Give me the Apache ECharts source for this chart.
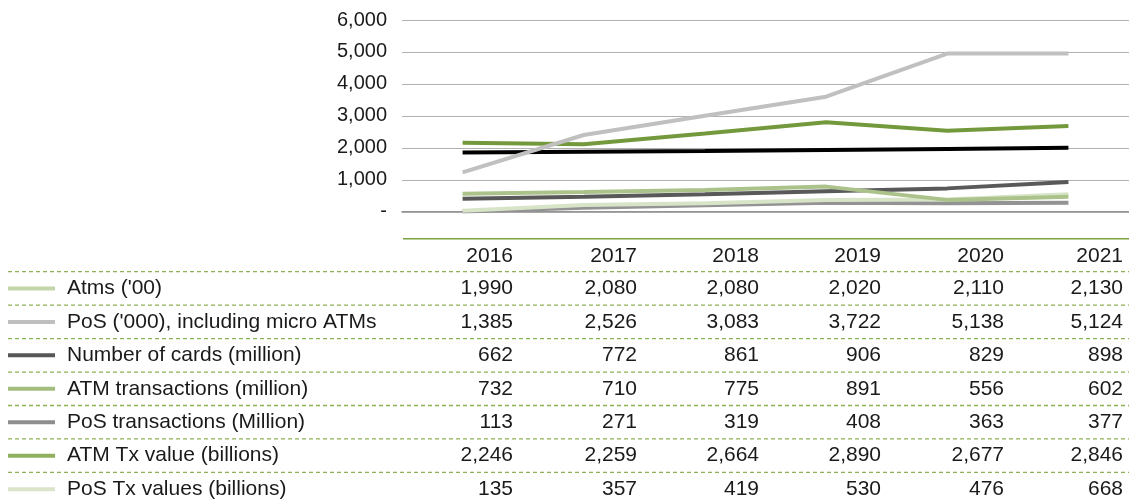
<!DOCTYPE html>
<html lang="en">
<head>
    <meta charset="UTF-8">
    <title>ATM and PoS statistics</title>
    <script src="https://cdn.jsdelivr.net/npm/echarts@6.0.0/dist/echarts.min.js"></script>
    <style>
        html, body { margin: 0; padding: 0; background: #fff; }
        #chart { width: 1129px; height: 502px; }
    </style>
</head>
<body>
    <div id="chart"></div>
    <script type="text/javascript">
    // categories
    const years = ['2016', '2017', '2018', '2019', '2020', '2021'];

    // values shown in the data table under the chart
    const rowNames = [
        "Atms ('00)",
        "PoS ('000), including micro ATMs",
        'Number of cards (million)',
        'ATM transactions (million)',
        'PoS transactions (Million)',
        'ATM Tx value (billions)',
        'PoS Tx values (billions)'
    ];
    const atmsTable = [1990, 2080, 2080, 2020, 2110, 2130];
    const posTable = [1385, 2526, 3083, 3722, 5138, 5124];
    const cardsTable = [662, 772, 861, 906, 829, 898];
    const atmTxTable = [732, 710, 775, 891, 556, 602];
    const posTxTable = [113, 271, 319, 408, 363, 377];
    const atmValueTable = [2246, 2259, 2664, 2890, 2677, 2846];
    const posValueTable = [135, 357, 419, 530, 476, 668];

    // values as the lines are actually plotted
    const atmsLine = [1850, 1875, 1900, 1935, 1965, 2000];
    const posLine = [1230, 2400, 3000, 3600, 4950, 4950];
    const cardsLine = [405, 470, 545, 640, 730, 930];
    const atmTxLine = [565, 615, 680, 785, 370, 470];
    const posTxLine = [10, 120, 200, 280, 265, 280];
    const atmValueLine = [2160, 2110, 2450, 2800, 2535, 2680];
    const posValueLine = [30, 210, 265, 365, 380, 545];

    // y axis ticks
    const yMin = 0, yMax = 6000, yStep = 1000;

    const font = '"Liberation Sans", Arial, sans-serif';
    const textColor = '#1a1a1a';

    const tableValues = [atmsTable, posTable, cardsTable, atmTxTable, posTxTable, atmValueTable, posValueTable];
    const swatchColors = ['#c4d6a9', '#bfbfbf', '#575757', '#a2bd7e', '#8e8e8e', '#8fb05e', '#d9e4ca'];

    const fmt = (v) => v.toLocaleString('en-US');

    // table layout
    const colRight = [513, 637, 759, 881, 1004, 1123];
    const firstDash = 271.7, rowH = 33.45;

    const graphic = [];
    // solid green line on top of the table
    graphic.push({
        type: 'line', shape: { x1: 403, y1: 238.7, x2: 1129, y2: 238.7 },
        style: { stroke: '#7aa23e', lineWidth: 1.5 }
    });
    // year header
    years.forEach((y, i) => {
        graphic.push({
            type: 'text', x: colRight[i], y: 256,
            style: { text: y, font: '21px ' + font, fill: textColor, align: 'right', verticalAlign: 'middle' }
        });
    });
    // dashed separators
    for (let r = 0; r < rowNames.length; r++) {
        graphic.push({
            type: 'line', shape: { x1: 8, y1: firstDash + r * rowH, x2: 1129, y2: firstDash + r * rowH },
            style: { stroke: '#8db254', lineWidth: 1.3, lineDash: [4, 3] }
        });
    }
    // rows: swatch, name, values
    rowNames.forEach((name, r) => {
        const cy = firstDash + r * rowH + rowH / 2;
        graphic.push({
            type: 'line', shape: { x1: 8, y1: cy, x2: 55, y2: cy },
            style: { stroke: swatchColors[r], lineWidth: 4 }
        });
        graphic.push({
            type: 'text', x: 67, y: cy,
            style: { text: name, font: '21px ' + font, fill: textColor, verticalAlign: 'middle' }
        });
        tableValues[r].forEach((v, i) => {
            graphic.push({
                type: 'text', x: colRight[i], y: cy,
                style: { text: fmt(v), font: '21px ' + font, fill: textColor, align: 'right', verticalAlign: 'middle' }
            });
        });
    });

    const lineSeries = [
        { name: "Atms ('00)", data: atmsLine, color: '#000000' },
        { name: 'PoS transactions (Million)', data: posTxLine, color: '#939393' },
        { name: 'PoS Tx values (billions)', data: posValueLine, color: '#d8e4c8' },
        { name: 'Number of cards (million)', data: cardsLine, color: '#595959' },
        { name: 'ATM transactions (million)', data: atmTxLine, color: '#abc38b' },
        { name: 'ATM Tx value (billions)', data: atmValueLine, color: '#74993c' },
        { name: "PoS ('000), including micro ATMs", data: posLine, color: '#c0c0c0' }
    ];

    var chart = echarts.init(document.getElementById('chart'));
    var option = {
        animation: false,
        grid: { left: 402, top: 20, width: 769, height: 191.7 },
        xAxis: {
            type: 'category',
            data: years,
            boundaryGap: true,
            axisLine: { show: true, lineStyle: { color: '#8a8a8a', width: 1.5 } },
            axisTick: { show: false },
            axisLabel: { show: false }
        },
        yAxis: {
            type: 'value',
            min: yMin, max: yMax, interval: yStep,
            axisLine: { show: false },
            axisTick: { show: false },
            splitLine: { lineStyle: { color: '#b0b0b0', width: 1.2 } },
            axisLabel: {
                margin: 15,
                color: textColor,
                fontFamily: font,
                fontSize: 20,
                formatter: (v) => v === 0 ? '-' : fmt(v)
            }
        },
        series: lineSeries.map((s) => ({
            name: s.name,
            type: 'line',
            data: s.data,
            symbol: 'none',
            lineStyle: { color: s.color, width: 4, cap: 'butt' }
        })),
        graphic: graphic
    };
    chart.setOption(option);
    </script>
</body>
</html>
